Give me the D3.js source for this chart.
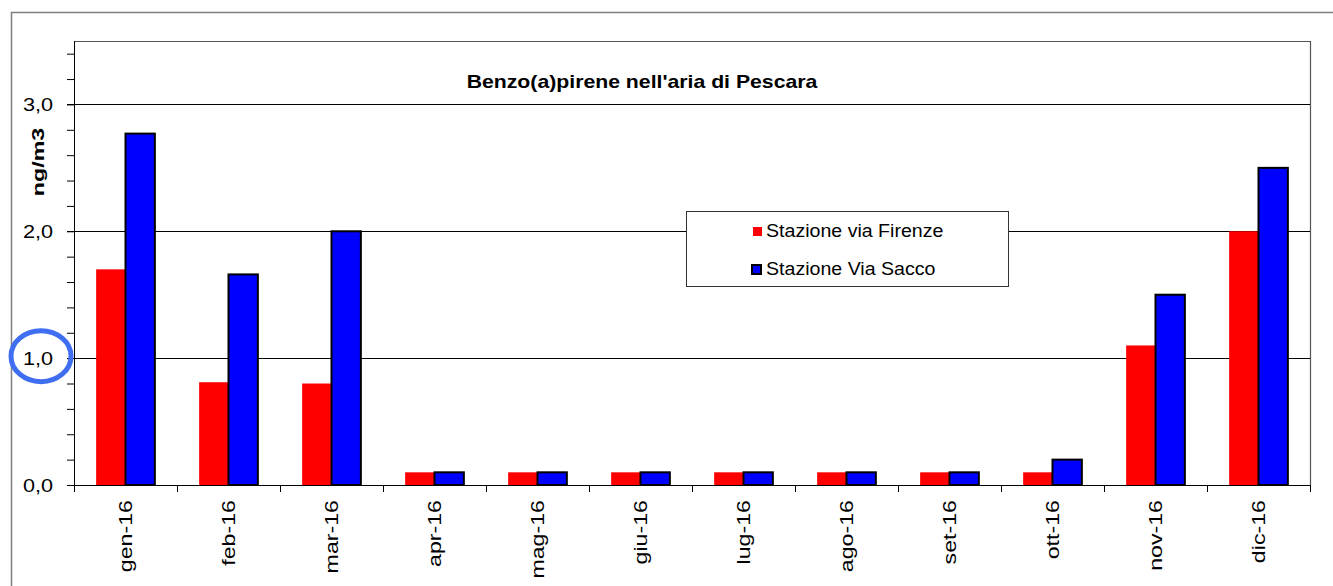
<!DOCTYPE html>
<html>
<head>
<meta charset="utf-8">
<script src="https://cdn.jsdelivr.net/npm/d3@7"></script>
<style>
html,body{margin:0;padding:0;background:#fff;}
svg{display:block;font-family:"Liberation Sans",Arial,sans-serif;}
</style>
</head>
<body>
<svg id="chart" width="1333" height="586"></svg>
<script>
const categories = ["gen-16","feb-16","mar-16","apr-16","mag-16","giu-16","lug-16","ago-16","set-16","ott-16","nov-16","dic-16"];
const firenze = [1.7,0.81,0.8,0.1,0.1,0.1,0.1,0.1,0.1,0.1,1.1,2.0];
const sacco = [2.77,1.66,2.0,0.1,0.1,0.1,0.1,0.1,0.1,0.2,1.5,2.5];
const seriesNames = ["Stazione via Firenze","Stazione Via Sacco"];
const majorTicks = [0,1,2,3];
const majorLabels = ["0,0","1,0","2,0","3,0"];
const title = "Benzo(a)pirene nell'aria di Pescara";
const yTitle = "ng/m3";

const svg = d3.select("#chart");
const L = 74, R = 1310, T = 41, B = 485;

// outer frame
svg.append("rect").attr("x",11.5).attr("y",12.5).attr("width",1340).attr("height",600)
  .attr("fill","none").attr("stroke","#7f7f7f").attr("stroke-width",1.5);

const x = d3.scaleBand().domain(categories).range([L,R]).paddingInner(0).paddingOuter(0);
const y = d3.scaleLinear().domain([0,3.5]).range([B,T]);
const bandW = x.bandwidth();
const gap = bandW*0.215;
const barW = (bandW - 2*gap)/2;

// plot area border (top/right)
svg.append("path").attr("d",`M${L},${T+0.5}H${R+0.5}V${B}`).attr("fill","none").attr("stroke","#555").attr("stroke-width",1.2);

// gridlines
svg.append("g").selectAll("line").data(majorTicks.filter(d=>d>0)).join("line")
  .attr("x1",L).attr("x2",R).attr("y1",d=>Math.round(y(d))+0.5).attr("y2",d=>Math.round(y(d))+0.5)
  .attr("stroke","#000").attr("stroke-width",1);

// bars
const gBars = svg.append("g");
gBars.selectAll("rect.f").data(firenze).join("rect").attr("class","f")
  .attr("x",(d,i)=>x(categories[i])+gap).attr("width",barW)
  .attr("y",d=>y(d)).attr("height",d=>B-y(d)).attr("fill","#ff0000");
gBars.selectAll("rect.s").data(sacco).join("rect").attr("class","s")
  .attr("x",(d,i)=>x(categories[i])+gap+barW).attr("width",barW)
  .attr("y",d=>y(d)).attr("height",d=>B-y(d)).attr("fill","#0000ff")
  .attr("stroke","#000").attr("stroke-width",2);

// y axis
const minorTicks = d3.range(0,3.5001,0.2);
const yAxis = d3.axisLeft(y).tickValues(minorTicks).tickSize(7).tickFormat("");
const gy = svg.append("g").attr("transform",`translate(${L},0)`).call(yAxis);
gy.select(".domain").attr("stroke","#000").attr("d",`M0.5,${T}V${B}`);
gy.selectAll(".tick line").attr("stroke","#000");
svg.append("g").selectAll("line").data(majorTicks).join("line")
  .attr("x1",L-7).attr("x2",L).attr("y1",d=>Math.round(y(d))+0.5).attr("y2",d=>Math.round(y(d))+0.5).attr("stroke","#000");
svg.append("g").selectAll("text").data(majorTicks).join("text")
  .attr("transform",d=>`translate(53,${y(d)}) scale(1.14,1)`)
  .attr("dy","0.36em").attr("text-anchor","end")
  .attr("font-size",19).attr("fill","#000").text((d,i)=>majorLabels[i]);

// x axis
const xAxis = d3.axisBottom(x).tickSize(0).tickFormat("");
const gx = svg.append("g").attr("transform",`translate(0,${B})`).call(xAxis);
gx.select(".domain").attr("stroke","#000").attr("d",`M${L},0.5H${R+0.5}`);
svg.append("g").selectAll("line").data(d3.range(categories.length+1)).join("line")
  .attr("x1",i=>Math.round(L+i*bandW)+0.5).attr("x2",i=>Math.round(L+i*bandW)+0.5)
  .attr("y1",B).attr("y2",B+7).attr("stroke","#000");
svg.append("g").selectAll("text").data(categories).join("text")
  .attr("transform",d=>`translate(${x(d)+bandW/2},${B+15}) rotate(-90) scale(1.22,1)`)
  .attr("text-anchor","end").attr("dy","0.36em").attr("font-size",19).attr("fill","#000").text(d=>d);

// title
svg.append("text").attr("transform","translate(642,88) scale(1.18,1)").attr("text-anchor","middle")
  .attr("font-size",18).attr("font-weight","bold").attr("fill","#000").text(title);

// y title
svg.append("text").attr("transform","translate(44,162) rotate(-90) scale(1.45,1)").attr("text-anchor","middle")
  .attr("font-size",16).attr("font-weight","bold").attr("fill","#000").text(yTitle);

// legend
const lg = svg.append("g");
lg.append("rect").attr("x",686.5).attr("y",211.5).attr("width",322).attr("height",75)
  .attr("fill","#fff").attr("stroke","#333").attr("stroke-width",1);
lg.append("rect").attr("x",753).attr("y",227).attr("width",9).attr("height",9).attr("fill","#ff0000");
lg.append("rect").attr("x",752).attr("y",265).attr("width",9).attr("height",9).attr("fill","#0000ff").attr("stroke","#000").attr("stroke-width",2);
lg.append("text").attr("transform","translate(766,237) scale(1.12,1)").attr("font-size",17.5).attr("fill","#000").text(seriesNames[0]);
lg.append("text").attr("transform","translate(766,275) scale(1.12,1)").attr("font-size",17.5).attr("fill","#000").text(seriesNames[1]);

// highlight circle around 1,0
svg.append("ellipse").attr("cx",41).attr("cy",y(1)-2).attr("rx",30).attr("ry",25.5)
  .attr("fill","none").attr("stroke","#3f6ef0").attr("stroke-width",5);
</script>
</body>
</html>
